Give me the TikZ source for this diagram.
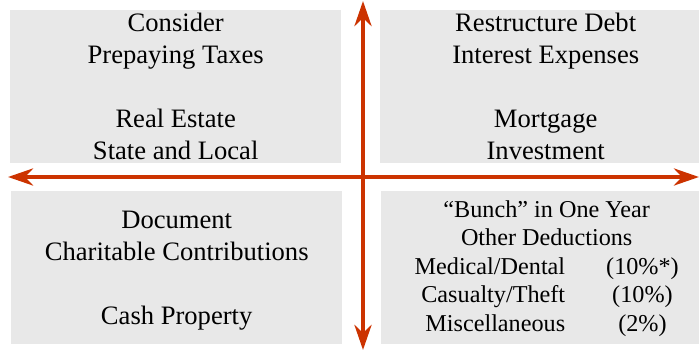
\documentclass[tikz,border=0pt]{standalone}
\usepackage{fontspec}
\setmainfont{Liberation Serif}
\usetikzlibrary{arrows.meta,positioning}

\definecolor{axisred}{RGB}{204,51,0}
\definecolor{boxgray}{RGB}{232,232,232}

\tikzset{
  quad/.style={fill=boxgray, inner sep=0pt, anchor=north west,
    minimum width=331pt, minimum height=153pt, align=center,
    font=\fontsize{26.6}{32}\selectfont},
  axis/.style={axisred, line width=4.6pt,
    {Stealth[length=25pt,width=17pt,inset=8pt]}-{Stealth[length=25pt,width=17pt,inset=8pt]}}
}

\begin{document}
\begin{tikzpicture}[x=1pt,y=-1pt]
  \clip (0,0) rectangle (699,352);
  % four quadrants
  \node[quad] (taxes) at (10,10) {Consider\\Prepaying Taxes\\[32pt]Real Estate\\State and Local};
  \node[quad] (debt) at (380,10) {Restructure Debt\\Interest Expenses\\[32pt]Mortgage\\Investment};
  \node[quad] (charity) at (11,191) {\rule{0pt}{24pt}Document\\Charitable Contributions\\[32pt]Cash Property};
  \node[quad, font=\fontsize{24.2}{28.5}\selectfont] (bunch) at (381,191)
    {\rule{0pt}{22pt}“Bunch” in One Year\\Other Deductions\\
     \begin{tabular}[t]{@{}r@{\hspace{41pt}}c@{}}
       Medical/Dental & (10\%*)\\
       Casualty/Theft & (10\%)\\
       Miscellaneous & (2\%)
     \end{tabular}};
  % the two axes
  \coordinate (north) at (363,1);
  \coordinate (south) at (363,350);
  \coordinate (west) at (8,177);
  \coordinate (east) at (699,177);
  \draw[axis] (west) -- (east);
  \draw[axis] (south) -- (north);
\end{tikzpicture}
\end{document}
